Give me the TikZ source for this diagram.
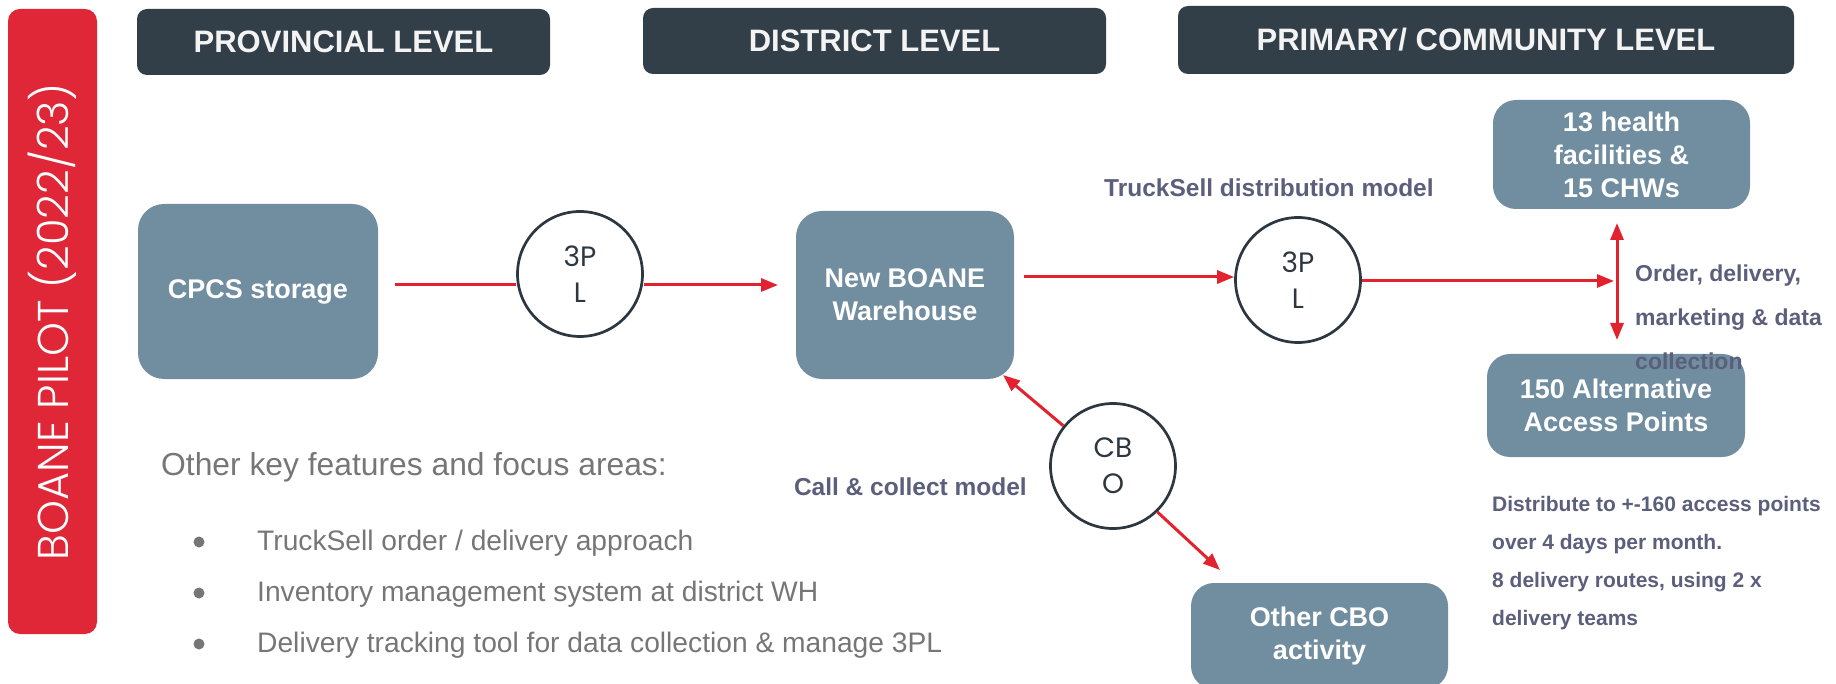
\documentclass[tikz,border=0pt]{standalone}
\usepackage{fontspec}
\setmainfont{Liberation Sans}
\newfontfamily\geo{Poppins}
\IfFontExistsTF{Poppins Light}{\newfontfamily\geolight{Poppins Light}}{\newfontfamily\geolight{Poppins}}
\usetikzlibrary{arrows.meta}
\definecolor{barred}{HTML}{E02737}
\definecolor{hdrcol}{HTML}{323E48}
\definecolor{hdrtext}{HTML}{F3F3F3}
\definecolor{boxcol}{HTML}{718DA0}
\definecolor{lblcol}{HTML}{5B5F7B}
\definecolor{graytext}{HTML}{767676}
\definecolor{ringcol}{HTML}{2D3740}
\definecolor{arrowred}{HTML}{E3222F}
\begin{document}
\begin{tikzpicture}[x=1pt,y=-1pt,
  hdr/.style={fill=hdrcol, rounded corners=10pt, text=hdrtext, inner sep=0pt,
    font=\fontsize{31}{36}\selectfont\bfseries},
  box/.style={fill=boxcol, rounded corners=26pt, text=white, align=center, inner sep=0pt,
    font=\fontsize{27}{33}\selectfont\bfseries},
  hub/.style={circle, draw=ringcol, line width=2.7pt, fill=white, minimum size=125pt,
    inner sep=0pt, align=center, text=ringcol, font=\geo\fontsize{28}{36}\selectfont},
  flow/.style={draw=arrowred, line width=3pt},
  tip/.style={-{Triangle[length=17pt,width=13pt]}},
  twotip/.style={{Triangle[length=17pt,width=13pt]}-{Triangle[length=17pt,width=13pt]}},
  lbl/.style={text=lblcol, inner sep=0pt, font=\fontsize{24.5}{30}\selectfont\bfseries},
  note/.style={text=lblcol, inner sep=0pt, align=left},
  gray/.style={text=graytext, inner sep=0pt},
  dot/.style={circle, fill=graytext, minimum size=11pt, inner sep=0pt}
]
\useasboundingbox (0,0) rectangle (1836,684);

% side title bar
\node[fill=barred, rounded corners=12pt, minimum width=89pt, minimum height=625pt, inner sep=0pt] (bar) at (52.5,321.5) {};
\node[rotate=90, text=white, inner sep=0pt] (title) at (bar.center) {\resizebox{477pt}{!}{\geolight BOANE PILOT (2022/23)}};

% level headers
\node[hdr, minimum width=413pt, minimum height=66pt] (hp) at (343.5,42) {PROVINCIAL LEVEL};
\node[hdr, minimum width=463pt, minimum height=66pt] (hd) at (874.5,41) {DISTRICT LEVEL};
\node[hdr, minimum width=616pt, minimum height=68pt] (hc) at (1486,40) {PRIMARY/ COMMUNITY LEVEL};

% boxes
\node[box, minimum width=240pt, minimum height=175pt] (cpcs) at (258,291.5) {CPCS storage};
\node[box, minimum width=218pt, minimum height=168pt] (wh) at (905,295) {New BOANE\\Warehouse};
\node[box, rounded corners=23pt, minimum width=257pt, minimum height=109pt] (hf) at (1621.5,154.5) {13 health\\facilities \&\\15 CHWs};
\node[box, rounded corners=23pt, minimum width=258pt, minimum height=103pt] (ap) at (1616,405.5) {150 Alternative\\Access Points};
\begin{scope}
\clip (0,0) rectangle (1836,684);
\node[box, rounded corners=23pt, minimum width=257pt, minimum height=106pt] (ocbo) at (1319.5,636) {Other CBO\\activity};
\end{scope}

% 3PL / CBO hubs
\node[hub] (c1) at (580,274) {3P\\L};
\node[hub] (c2) at (1298,280) {3P\\L};
\node[hub] (cbo) at (1113,466) {CB\\O};

% connectors
\coordinate (s1) at (395,285);
\coordinate (e1) at (778,285);
\coordinate (s2) at (1024,277);
\coordinate (e2) at (1614,281);
\coordinate (vt) at (1617,223);
\coordinate (vb) at (1617,340);
\coordinate (wt) at (1003,375);
\coordinate (ot) at (1220,570);
\draw[flow] (s1) -- (s1 -| c1.west);
\draw[flow,tip] (e1 -| c1.east) -- (e1);
\draw[flow,tip] (s2) -- (s2 -| c2.west);
\draw[flow,tip] (e2 -| c2.east) -- (e2);
\draw[flow,twotip] (vt) -- (vb);
\draw[flow,tip] (cbo.141) -- (wt);
\draw[flow,tip] (cbo.-46) -- (ot);

% labels
\node[lbl, anchor=base west] (tsl) at (1104,197) {TruckSell distribution model};
\node[lbl, anchor=base east] (ccl) at (1027,495) {Call \& collect model};
\node[note, anchor=north west, font=\fontsize{23}{44}\selectfont\bfseries] (odl) at (1635,265) {Order, delivery,\\marketing \& data\\collection};
\node[note, anchor=north west, font=\fontsize{21}{38}\selectfont\bfseries] (dsl) at (1492,496) {Distribute to +-160 access points\\over 4 days per month.\\8 delivery routes, using 2 x\\delivery teams};

% features list
\node[gray, anchor=base west, font=\fontsize{31.8}{38}\selectfont] (feat) at (161,475) {Other key features and focus areas:};
\node[dot] (d1) at (199,542) {};
\node[dot] (d2) at (199,593) {};
\node[dot] (d3) at (199,644) {};
\node[gray, anchor=base west, font=\fontsize{28.2}{34}\selectfont] (f1) at (257,550) {TruckSell order / delivery approach};
\node[gray, anchor=base west, font=\fontsize{28.2}{34}\selectfont] (f2) at (257,601) {Inventory management system at district WH};
\node[gray, anchor=base west, font=\fontsize{28.2}{34}\selectfont] (f3) at (257,652) {Delivery tracking tool for data collection \& manage 3PL};
\end{tikzpicture}
\end{document}
